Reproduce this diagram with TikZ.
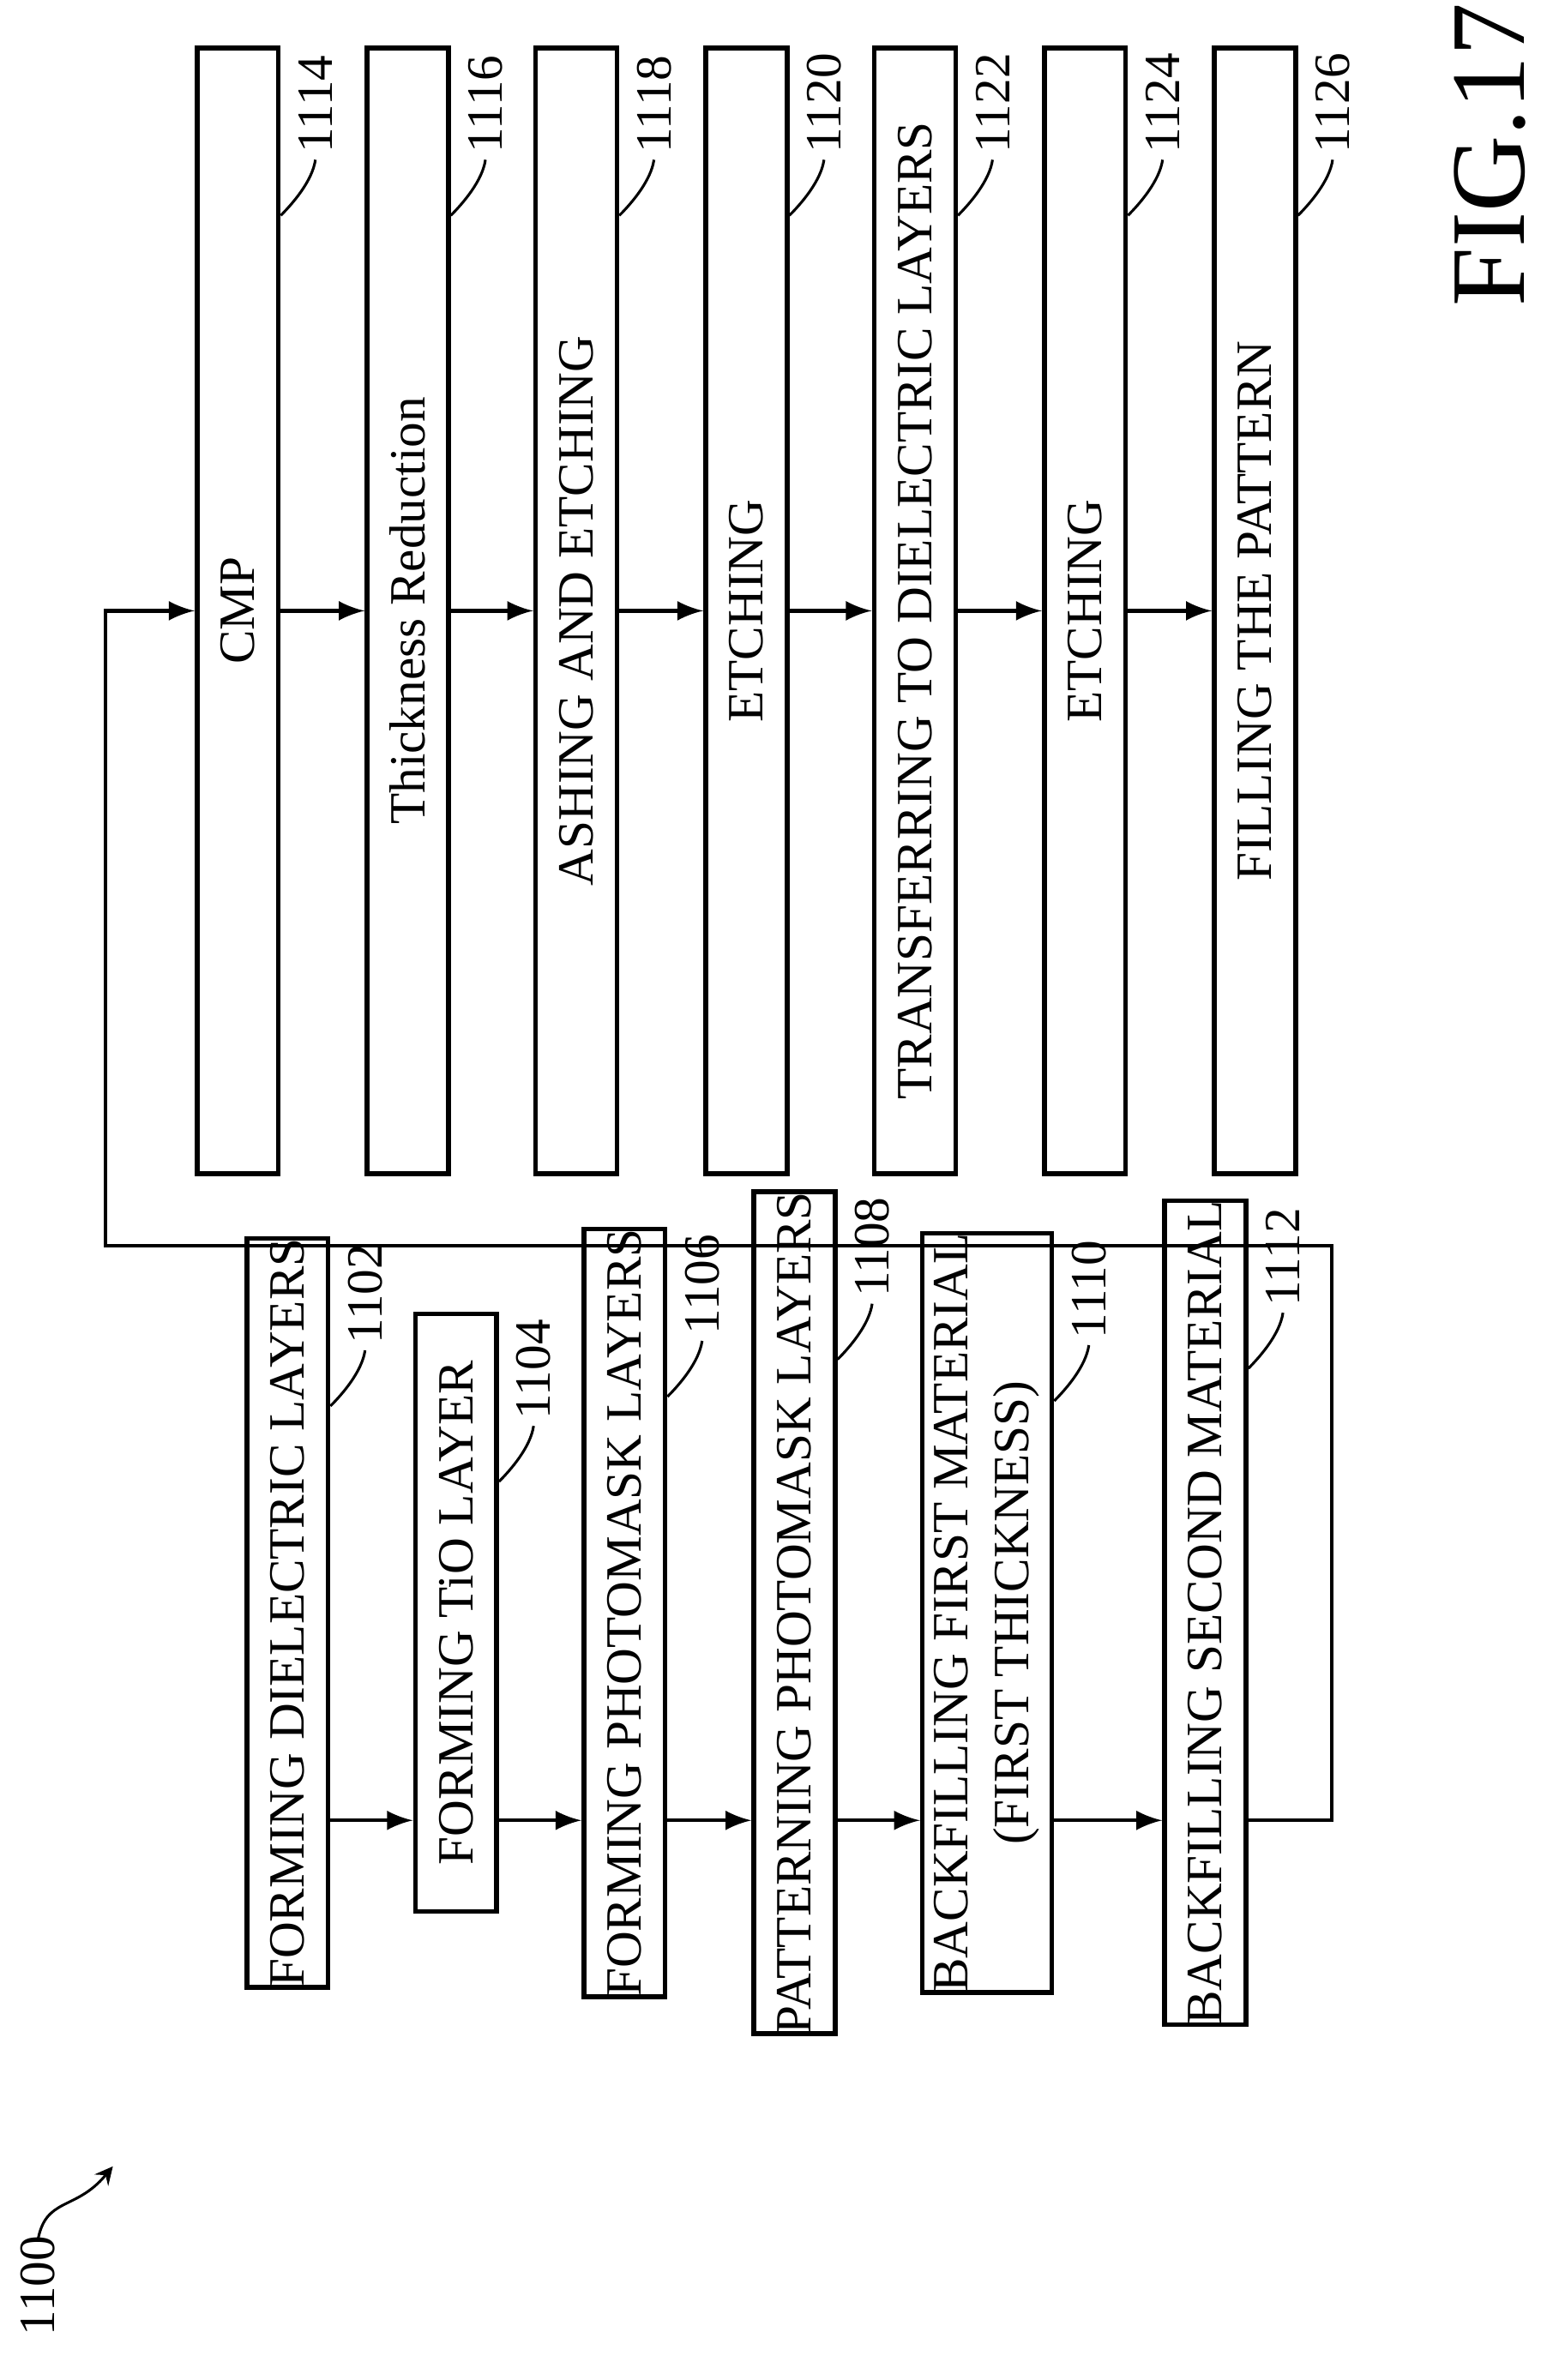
\documentclass[tikz,border=0pt]{standalone}
\usepackage{fontspec}
\setmainfont{Liberation Serif}
\usetikzlibrary{calc}
\begin{document}
\begin{tikzpicture}[x=0.01cm, y=-0.01cm,
  stepbox/.style={draw, line width=0.9pt, rotate=90, inner sep=0pt,
    font=\fontsize{9.6}{11.5}\selectfont, align=center},
  shortbox/.style={stepbox, minimum width=3.97cm, minimum height=0.54cm},
  longbox/.style={stepbox, minimum width=7.48cm, minimum height=0.54cm},
  lbl/.style={rotate=90, anchor=west, inner sep=1pt, font=\fontsize{9.6}{11}\selectfont},
  lead/.style={line width=0.5pt},
  arr/.style={-latex, line width=0.7pt}]

  % Bounding box of the scheme
  \useasboundingbox (0,0) rectangle (1024,1582);

  %%%%%%%%%%%%%%%%%%%%%%%%%% Left column %%%%%%%%%%%%%%%%%%%%%%%%%%
  \node[shortbox] (b1102) at (191,1072) {FORMING DIELECTRIC LAYERS};
  \node[shortbox] (b1104) at (303,1072) {FORMING TiO LAYER};
  \node[shortbox] (b1106) at (415,1072) {FORMING PHOTOMASK LAYERS};
  \node[shortbox] (b1108) at (528,1072) {PATTERNING PHOTOMASK LAYERS};
  \node[shortbox, minimum height=0.86cm] (b1110) at (656,1072) {BACKFILLING FIRST MATERIAL\\(FIRST THICKNESS)};
  \node[shortbox] (b1112) at (801,1072) {BACKFILLING SECOND MATERIAL};

  %%%%%%%%%%%%%%%%%%%%%%%%%% Right column %%%%%%%%%%%%%%%%%%%%%%%%%%
  \node[longbox] (b1114) at (158,406) {CMP};
  \node[longbox] (b1116) at (271,406) {Thickness Reduction};
  \node[longbox] (b1118) at (383,406) {ASHING AND ETCHING};
  \node[longbox] (b1120) at (496,406) {ETCHING};
  \node[longbox] (b1122) at (608,406) {TRANSFERRING TO DIELECTRIC LAYERS};
  \node[longbox] (b1124) at (721,406) {ETCHING};
  \node[longbox] (b1126) at (834,406) {FILLING THE PATTERN};

  % Reference numerals
  \foreach \b in {1102,1104,1106,1108,1110,1112,1114,1116,1118,1120,1122,1124,1126} {
    \draw[lead] ($(b\b.south east)+(0,113)$) .. controls +(8,-8) and +(-2,14) .. ($(b\b.south east)+(23,76)$)
      node[lbl] (l\b) {\b};
  }

  %%%%%%%%%%%%%%%%%%%%%%%%%% Arrows %%%%%%%%%%%%%%%%%%%%%%%%%%
  \foreach \a/\b in {1102/1104,1104/1106,1106/1108,1108/1110,1110/1112} {
    \draw[arr] (b\a.south |- 0,1210) -- (b\b.north |- 0,1210);
  }
  \foreach \a/\b in {1114/1116,1116/1118,1118/1120,1120/1122,1122/1124,1124/1126} {
    \draw[arr] (b\a.south |- 0,406) -- (b\b.north |- 0,406);
  }
  \coordinate (c1) at (885,1210);
  \coordinate (c2) at (70,406);
  \draw[arr] (b1112.south |- c1) -- (c1) -- (885,828) -- (70,828) -- (c2) -- (b1114.north |- c2);

  % Figure number
  \node[rotate=90, font=\fontsize{20}{22}\selectfont] (fig) at (990,103) {FIG.17};
  \node[rotate=90, anchor=west, font=\fontsize{9.6}{11}\selectfont] (n1100) at (25,1565) {1100};
  \draw[lead, -stealth] (25,1490) .. controls (30,1460) and (50,1470) .. (75,1440);
\end{tikzpicture}
\end{document}
